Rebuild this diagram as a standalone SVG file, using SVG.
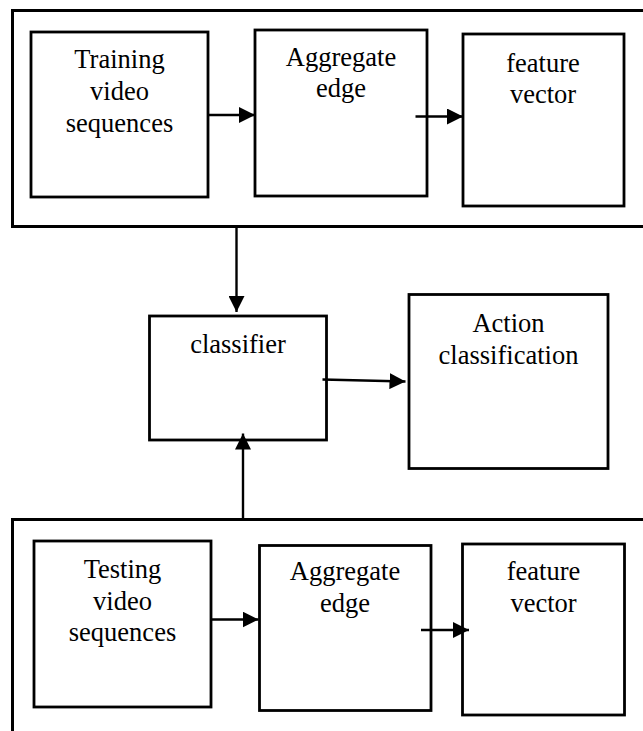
<svg xmlns="http://www.w3.org/2000/svg" width="643" height="731" viewBox="0 0 643 731">
  <style>
    .frame { fill: none; stroke: #000; stroke-width: 3; }
    .box { fill: #fff; stroke: #000; stroke-width: 2.8; }
    .lbl { font-family: 'Liberation Serif', 'Times New Roman', 'DejaVu Serif', serif; font-size: 26.5px; fill: #000; text-anchor: middle; }
    .conn { fill: none; stroke: #000; stroke-width: 2.4; }
  </style>
  <defs>
    <marker id="ah" markerUnits="userSpaceOnUse" markerWidth="16" markerHeight="16" refX="16" refY="8" orient="auto" viewBox="0 0 16 16">
      <path d="M0,0 L16,8 L0,16 Z" fill="#000"/>
    </marker>
  </defs>
  <rect width="643" height="731" fill="#fff"/>

  <g id="training-frame">
    <rect class="frame" x="12.5" y="10.5" width="640" height="216"/>
  </g>
  <g id="testing-frame">
    <rect class="frame" x="12.5" y="519.5" width="640" height="230"/>
  </g>

  <g id="training-video">
    <rect class="box" x="31" y="32" width="177" height="165"/>
    <text class="lbl" x="119.5" y="68" font-family="Liberation Serif, serif">Training</text>
    <text class="lbl" x="119.5" y="100" font-family="Liberation Serif, serif">video</text>
    <text class="lbl" x="119.5" y="132" font-family="Liberation Serif, serif">sequences</text>
  </g>
  <g id="aggregate-top">
    <rect class="box" x="255" y="30" width="172" height="166"/>
    <text class="lbl" x="341" y="66">Aggregate</text>
    <text class="lbl" x="341" y="97">edge</text>
  </g>
  <g id="feature-top">
    <rect class="box" x="463" y="34" width="161" height="172"/>
    <text class="lbl" x="543" y="72">feature</text>
    <text class="lbl" x="543" y="103">vector</text>
  </g>

  <g id="classifier">
    <rect class="box" x="149.5" y="316" width="177" height="124"/>
    <text class="lbl" x="238" y="353">classifier</text>
  </g>
  <g id="action">
    <rect class="box" x="409" y="294.5" width="199" height="174"/>
    <text class="lbl" x="508.5" y="332">Action</text>
    <text class="lbl" x="508.5" y="364">classification</text>
  </g>

  <g id="testing-video">
    <rect class="box" x="34" y="541" width="177" height="166"/>
    <text class="lbl" x="122.5" y="578">Testing</text>
    <text class="lbl" x="122.5" y="610">video</text>
    <text class="lbl" x="122.5" y="641">sequences</text>
  </g>
  <g id="aggregate-bottom">
    <rect class="box" x="259.5" y="545.5" width="171.5" height="165"/>
    <text class="lbl" x="345" y="580">Aggregate</text>
    <text class="lbl" x="345" y="612">edge</text>
  </g>
  <g id="feature-bottom">
    <rect class="box" x="462.5" y="544" width="162" height="171"/>
    <text class="lbl" x="543.5" y="580">feature</text>
    <text class="lbl" x="543.5" y="612">vector</text>
  </g>

  <g id="connectors">
    <line class="conn" x1="208" y1="115" x2="255" y2="115" marker-end="url(#ah)"/>
    <line class="conn" x1="415.5" y1="116.5" x2="463" y2="116.5" marker-end="url(#ah)"/>
    <line class="conn" x1="236.5" y1="227" x2="236.5" y2="312" marker-end="url(#ah)"/>
    <line class="conn" x1="322.5" y1="379.5" x2="405.5" y2="381.5" marker-end="url(#ah)"/>
    <line class="conn" x1="243" y1="519" x2="243" y2="433.5" marker-end="url(#ah)"/>
    <line class="conn" x1="211" y1="619.5" x2="258.5" y2="619.5" marker-end="url(#ah)"/>
    <line class="conn" x1="421" y1="630" x2="469" y2="630" marker-end="url(#ah)"/>
  </g>
</svg>
